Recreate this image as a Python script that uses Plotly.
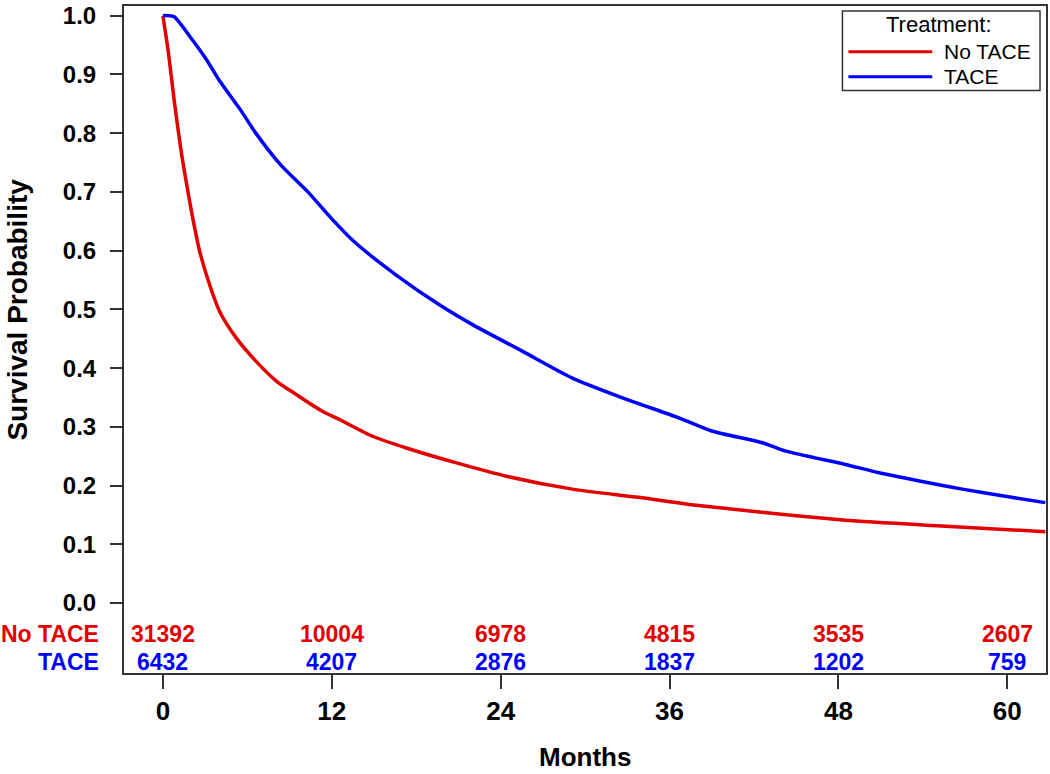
import plotly.graph_objects as go

# ---- data ----
months_no_tace = [0, 0.39, 0.82, 1.31, 1.70, 2.13, 2.62, 3.33, 4.04, 5.22, 6.64, 8.06, 9.48,
                  11.3, 12.55, 14.9, 17.3, 20.8, 24.4, 29.1, 33.8, 37.4, 43.6, 48.5, 55.6, 62.7]
surv_no_tace = [1.0, 0.937, 0.852, 0.767, 0.711, 0.654, 0.598, 0.541, 0.496, 0.451, 0.411,
                0.378, 0.355, 0.327, 0.3125, 0.284, 0.264, 0.239, 0.216, 0.194, 0.180,
                0.168, 0.152, 0.141, 0.131, 0.1215]

months_tace = [0, 0.4, 0.8, 1.9, 3.1, 4.0, 5.5, 6.6, 8.4, 10.3, 12.0, 13.6, 16.6, 19.7, 22.0,
               25.6, 29.1, 32.7, 36.7, 39.0, 42.6, 44.2, 48.5, 50.9, 54.4, 56.8, 60.3, 62.7]
surv_tace = [1.0, 1.0, 0.998, 0.965, 0.925, 0.89, 0.84, 0.80, 0.745, 0.70, 0.654, 0.615, 0.558,
             0.507, 0.474, 0.428, 0.383, 0.349, 0.315, 0.293, 0.273, 0.259, 0.236, 0.222,
             0.205, 0.194, 0.180, 0.171]

risk_months = [0, 12, 24, 36, 48, 60]
risk_no_tace = [31392, 10004, 6978, 4815, 3535, 2607]
risk_tace = [6432, 4207, 2876, 1837, 1202, 759]

group_names = ["No TACE", "TACE"]
y_ticks = [0.0, 0.1, 0.2, 0.3, 0.4, 0.5, 0.6, 0.7, 0.8, 0.9, 1.0]

RED = "rgb(226,0,0)"
BLUE = "rgb(0,0,255)"
FONT = "Liberation Sans, Arial, Helvetica, sans-serif"

W, H = 1050, 774
L, R, T, B = 124, 2, 3, 101
PW, PH = W - L - R, H - T - B


def px(xp):
    return (xp - L) / PW


def py(yp):
    return (H - B - yp) / PH


fig = go.Figure()
fig.add_trace(go.Scatter(x=months_no_tace, y=surv_no_tace, mode="lines", name=group_names[0],
                         line=dict(color=RED, width=3.5, shape="spline", smoothing=0.7), showlegend=False))
fig.add_trace(go.Scatter(x=months_tace, y=surv_tace, mode="lines", name=group_names[1],
                         line=dict(color=BLUE, width=3.5, shape="spline", smoothing=0.7), showlegend=False))

annotations = []
# at-risk numbers
for m, n1, n2 in zip(risk_months, risk_no_tace, risk_tace):
    annotations.append(dict(x=m, y=-0.052, xref="x", yref="y", text=str(n1), showarrow=False,
                            font=dict(family=FONT, size=23, color=RED, weight="bold"),
                            xanchor="center", yanchor="middle"))
    annotations.append(dict(x=m, y=-0.100, xref="x", yref="y", text=str(n2), showarrow=False,
                            font=dict(family=FONT, size=23, color=BLUE, weight="bold"),
                            xanchor="center", yanchor="middle"))
# at-risk row labels
annotations.append(dict(x=px(101), y=-0.052, xref="paper", yref="y", text=group_names[0], showarrow=False,
                        font=dict(family=FONT, size=23, color=RED, weight="bold"),
                        xanchor="right", yanchor="middle"))
annotations.append(dict(x=px(101), y=-0.100, xref="paper", yref="y", text=group_names[1], showarrow=False,
                        font=dict(family=FONT, size=23, color=BLUE, weight="bold"),
                        xanchor="right", yanchor="middle"))
# axis titles
annotations.append(dict(x=0.5, y=py(757), xref="paper", yref="paper", text="Months", showarrow=False,
                        font=dict(family=FONT, size=26, color="black", weight="bold"),
                        xanchor="center", yanchor="middle"))
annotations.append(dict(x=px(17), y=0.5, xref="paper", yref="y", text="Survival Probability", showarrow=False,
                        textangle=-90, font=dict(family=FONT, size=28, color="black", weight="bold"),
                        xanchor="center", yanchor="middle"))

# legend (drawn manually)
shapes = [
    dict(type="rect", xref="paper", yref="paper", x0=px(844), x1=px(1042), y0=py(88), y1=py(8),
         line=dict(color="#333333", width=1.5), fillcolor="white", layer="below"),
    dict(type="line", xref="paper", yref="paper", x0=px(850), x1=px(934), y0=py(49), y1=py(49),
         line=dict(color=RED, width=3)),
    dict(type="line", xref="paper", yref="paper", x0=px(850), x1=px(934), y0=py(74), y1=py(74),
         line=dict(color=BLUE, width=3)),
]
annotations.append(dict(x=px(941), y=py(22), xref="paper", yref="paper", text="Treatment:", showarrow=False,
                        font=dict(family=FONT, size=22, color="black"), xanchor="center", yanchor="middle"))
annotations.append(dict(x=px(944), y=py(49), xref="paper", yref="paper", text=group_names[0], showarrow=False,
                        font=dict(family=FONT, size=21, color="black"), xanchor="left", yanchor="middle"))
annotations.append(dict(x=px(944), y=py(74), xref="paper", yref="paper", text=group_names[1], showarrow=False,
                        font=dict(family=FONT, size=21, color="black"), xanchor="left", yanchor="middle"))

fig.update_layout(
    width=W, height=H,
    margin=dict(l=L, r=R, t=T, b=B, pad=0),
    paper_bgcolor="white", plot_bgcolor="white",
    showlegend=False,
    annotations=annotations,
    shapes=shapes,
    font=dict(family=FONT, color="black"),
)
fig.update_xaxes(range=[-2.765, 62.75], tickvals=risk_months, ticktext=[str(v) for v in risk_months],
                 ticks="outside", ticklen=14, tickwidth=1.5, tickcolor="#333333",
                 showline=True, linecolor="#333333", linewidth=2, mirror=True,
                 showgrid=False, zeroline=False,
                 tickfont=dict(family=FONT, size=26, color="black", weight="bold"))
fig.update_yaxes(range=[-0.119, 1.0164], tickvals=y_ticks, ticktext=[f"{v:.1f}" for v in y_ticks],
                 ticks="outside", ticklen=12, tickwidth=1.5, tickcolor="#333333",
                 showline=True, linecolor="#333333", linewidth=2, mirror=True,
                 showgrid=False, zeroline=False, ticklabelstandoff=9,
                 tickfont=dict(family=FONT, size=24, color="black", weight="bold"))

fig.write_html("out.html", config={"displayModeBar": False},
               post_script="document.body.style.margin='0';document.body.style.padding='0';"
                           "document.body.style.overflow='hidden';")
